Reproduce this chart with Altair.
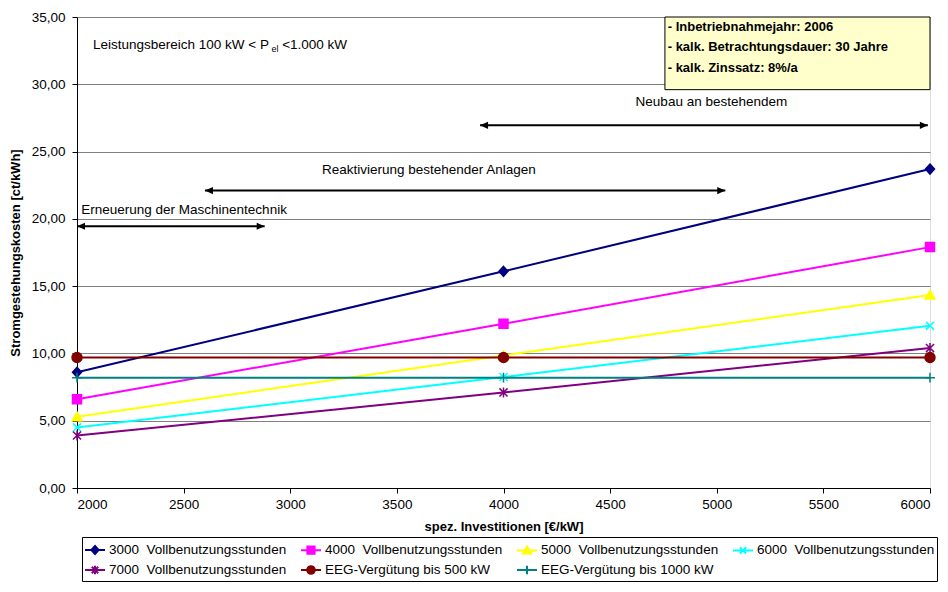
import altair as alt
import pandas as pd

FONT = "Liberation Sans, Arial, sans-serif"
FS = 13.5

# ---------------- data ----------------
x_vals = [2000, 4000, 6000]
series_names = [
    "3000\u00a0 Vollbenutzungsstunden",
    "4000\u00a0 Vollbenutzungsstunden",
    "5000\u00a0 Vollbenutzungsstunden",
    "6000\u00a0 Vollbenutzungsstunden",
    "7000\u00a0 Vollbenutzungsstunden",
    "EEG-Vergütung bis 500 kW",
    "EEG-Vergütung bis 1000 kW",
]
s3000 = [8.6, 16.1, 23.7]
s4000 = [6.6, 12.2, 17.9]
s5000 = [5.3, 9.85, 14.35]
s6000 = [4.5, 8.25, 12.05]
s7000 = [3.9, 7.1, 10.4]
eeg500 = [9.7, 9.7, 9.7]
eeg1000 = [8.2, 8.2, 8.2]
series_values = [s3000, s4000, s5000, s6000, s7000, eeg500, eeg1000]

colors = ["#000080", "#FF00FF", "#FFFF00", "#00FFFF", "#800080", "#800000", "#008080"]

# marker paths drawn on the plot
plot_shapes = [
    "M0,-0.55L0.5,0L0,0.55L-0.5,0Z",                                  # diamond
    "M-0.5,-0.5H0.5V0.5H-0.5Z",                                       # square
    "M0,-0.5L0.55,0.45H-0.55Z",                                       # triangle
    "M-0.45,-0.45L0.45,0.45M-0.45,0.45L0.45,-0.45",                   # x
    "M-0.45,-0.45L0.45,0.45M-0.45,0.45L0.45,-0.45M0,-0.55V0.55",      # asterisk
    "M0.55,0A0.55,0.55,0,1,1,-0.55,0A0.55,0.55,0,1,1,0.55,0Z",        # circle
    "M-0.55,0H0.55M0,-0.55V0.55",                                     # plus
]
# legend symbols: line segment + marker
LINE = "M-1,0H1"
legend_shapes = [
    LINE + "M0,-0.4L0.36,0L0,0.4L-0.36,0Z",
    LINE + "M-0.36,-0.36H0.36V0.36H-0.36Z",
    LINE + "M0,-0.38L0.4,0.32H-0.4Z",
    LINE + "M-0.32,-0.32L0.32,0.32M-0.32,0.32L0.32,-0.32",
    LINE + "M-0.32,-0.32L0.32,0.32M-0.32,0.32L0.32,-0.32M0,-0.42V0.42",
    LINE + "M0.38,0A0.38,0.38,0,1,1,-0.38,0A0.38,0.38,0,1,1,0.38,0Z",
    LINE + "M0,-0.42V0.42",
]

marker_keys = ["pt " + n for n in series_names]

rows = []
for name, key, vals in zip(series_names, marker_keys, series_values):
    for xv, yv in zip(x_vals, vals):
        rows.append({"series": name, "mk": key, "x": xv, "y": yv})
df = pd.DataFrame(rows)

# annotations (double arrows)
arrow_x1 = [2000, 2600, 3890]
arrow_x2 = [2880, 5040, 5990]
arrow_y = [19.45, 22.1, 26.95]
arrow_df = pd.DataFrame({"x": arrow_x1, "x2": arrow_x2, "y": arrow_y})

ann_text = ["Erneuerung der Maschinentechnik", "Reaktivierung bestehender Anlagen", "Neubau an bestehendem"]
ann_x = [2020, 3650, 4975]
ann_y = [20.65, 23.6, 28.7]
ann_align = ["left", "center", "center"]
ann_df = pd.DataFrame({"t": ann_text, "x": ann_x, "y": ann_y, "a": ann_align})

# info box
box_df = pd.DataFrame({"x": [4757], "x2": [6000], "y": [29.6], "y2": [35.0]})
info_lines = ["- Inbetriebnahmejahr: 2006", "- kalk. Betrachtungsdauer: 30 Jahre", "- kalk. Zinssatz: 8%/a"]
info_y = [34.25, 32.75, 31.2]
info_df = pd.DataFrame({"t": info_lines, "x": [4770] * 3, "y": info_y})

# top-left range text
range_parts = ["Leistungsbereich 100 kW < P", "el", "<1.000 kW"]
range_x = [2075, 2912, 2962]
range_y = [32.9, 32.65, 32.9]
range_size = [FS, 9, FS]
range_df = pd.DataFrame({"t": range_parts, "x": range_x, "y": range_y, "s": range_size})

# ---------------- chart ----------------
x_enc = alt.X(
    "x:Q",
    scale=alt.Scale(domain=[2000, 6000], nice=False, zero=False),
    axis=alt.Axis(
        values=list(range(2000, 6001, 500)), format="d", grid=False, title="spez. Investitionen [€/kW]",
        labelFont=FONT, labelFontSize=FS, labelColor="black", titleFont=FONT, titleFontSize=13,
        titleFontWeight="bold", titleColor="black", domainColor="black", tickColor="black",
        tickSize=5, labelPadding=4, titlePadding=10,
    ),
)
y_enc = alt.Y(
    "y:Q",
    scale=alt.Scale(domain=[0, 35], nice=False),
    axis=alt.Axis(
        values=list(range(0, 36, 5)), grid=True, gridColor="#808080", gridWidth=1,
        title="Stromgestehungskosten [ct/kWh]",
        labelExpr="replace(format(datum.value, '.2f'), '.', ',')",
        labelFont=FONT, labelFontSize=FS, labelColor="black", titleFont=FONT, titleFontSize=13,
        titleFontWeight="bold", titleColor="black", domainColor="black", tickColor="black",
        tickSize=5, labelPadding=7, titlePadding=9,
    ),
)

all_keys = series_names + marker_keys
leg = alt.Legend(
    title=None, orient="none", legendX=5, legendY=520, direction="horizontal",
    columns=4, values=series_names, symbolSize=400, symbolStrokeWidth=2, symbolOpacity=1,
    labelFont=FONT, labelFontSize=FS, labelColor="black", labelLimit=400, labelOffset=3,
    columnPadding=10, rowPadding=1, padding=2, strokeColor="black",
)
fill_scale = alt.Scale(domain=all_keys, range=colors + colors)
stroke_scale = alt.Scale(domain=all_keys, range=colors + colors)
shape_scale = alt.Scale(domain=all_keys, range=legend_shapes + plot_shapes)

lines = alt.Chart(df).mark_line(strokeWidth=2).encode(
    x=x_enc,
    y=y_enc,
    stroke=alt.Stroke("mk:N", scale=stroke_scale, legend=leg),
    detail="mk:N",
)

points = alt.Chart(df).mark_point(filled=True, size=324, strokeWidth=1.5, opacity=1).encode(
    x="x:Q",
    y="y:Q",
    fill=alt.Fill("mk:N", scale=fill_scale, legend=leg),
    stroke=alt.Stroke("mk:N", scale=stroke_scale, legend=leg),
    shape=alt.Shape("mk:N", scale=shape_scale, legend=leg),
)

arrow_rule = alt.Chart(arrow_df).mark_rule(color="black", strokeWidth=2).encode(
    x="x:Q", x2="x2:Q", y="y:Q"
)
head_l = alt.Chart(arrow_df).mark_point(
    shape="M0,0L1,-0.45L1,0.45Z", filled=True, color="black", size=256, opacity=1
).encode(x="x:Q", y="y:Q")
head_r = alt.Chart(arrow_df).mark_point(
    shape="M0,0L-1,-0.45L-1,0.45Z", filled=True, color="black", size=256, opacity=1
).encode(x="x2:Q", y="y:Q")

ann_left = alt.Chart(ann_df).transform_filter("datum.a == 'left'").mark_text(
    align="left", baseline="middle", font=FONT, fontSize=FS, color="black"
).encode(x="x:Q", y="y:Q", text="t:N")
ann_center = alt.Chart(ann_df).transform_filter("datum.a == 'center'").mark_text(
    align="center", baseline="middle", font=FONT, fontSize=FS, color="black"
).encode(x="x:Q", y="y:Q", text="t:N")

box = alt.Chart(box_df).mark_rect(fill="#FFFFCC", stroke="black", strokeWidth=1).encode(
    x="x:Q", x2="x2:Q", y="y:Q", y2="y2:Q"
)
info = alt.Chart(info_df).mark_text(
    align="left", baseline="middle", font=FONT, fontSize=13, fontWeight="bold", color="black"
).encode(x="x:Q", y="y:Q", text="t:N")

range_txt = alt.Chart(range_df).mark_text(
    align="left", baseline="middle", font=FONT, color="black"
).encode(x="x:Q", y="y:Q", text="t:N", size=alt.Size("s:Q", scale=None, legend=None))

chart = alt.layer(
    lines, points, arrow_rule, head_l, head_r, ann_left, ann_center, box, info, range_txt
).properties(
    width=853, height=471,
    padding={"left": 69, "top": 9, "right": 10, "bottom": 100},
    autosize=alt.AutoSizeParams(type="none"),
).configure_view(stroke="#808080", strokeWidth=1).configure(background="white")

chart.save("out.html", embed_options={"renderer": "svg", "actions": False})
